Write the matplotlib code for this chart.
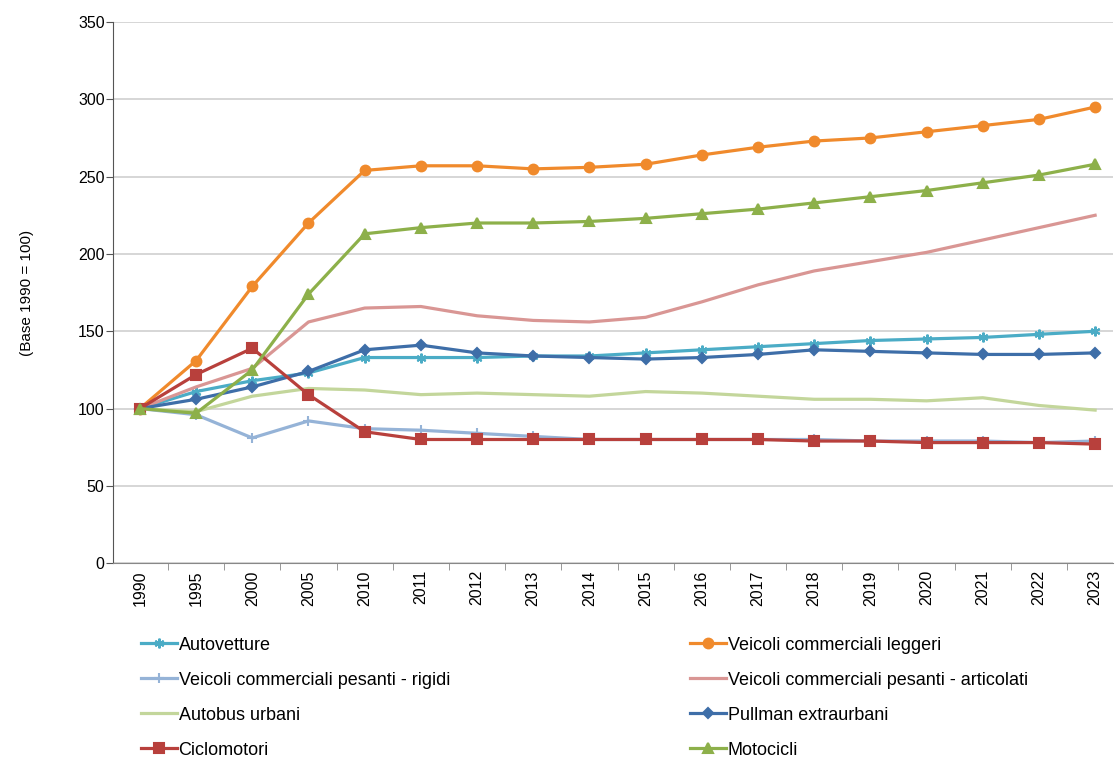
import numpy as np
import matplotlib.pyplot as plt
from matplotlib.ticker import MultipleLocator, FixedLocator

plt.rcParams["font.family"] = ["Liberation Sans", "DejaVu Sans"]

years = ["1990", "1995", "2000", "2005", "2010", "2011", "2012", "2013", "2014",
         "2015", "2016", "2017", "2018", "2019", "2020", "2021", "2022", "2023"]

autovetture = [100, 111, 118, 123, 133, 133, 133, 134, 134, 136, 138, 140, 142, 144, 145, 146, 148, 150]
comm_leggeri = [100, 131, 179, 220, 254, 257, 257, 255, 256, 258, 264, 269, 273, 275, 279, 283, 287, 295]
pesanti_rigidi = [100, 96, 81, 92, 87, 86, 84, 82, 80, 80, 80, 80, 80, 79, 79, 79, 78, 79]
pesanti_artic = [100, 114, 126, 156, 165, 166, 160, 157, 156, 159, 169, 180, 189, 195, 201, 209, 217, 225]
autobus_urbani = [100, 98, 108, 113, 112, 109, 110, 109, 108, 111, 110, 108, 106, 106, 105, 107, 102, 99]
pullman = [100, 106, 114, 124, 138, 141, 136, 134, 133, 132, 133, 135, 138, 137, 136, 135, 135, 136]
ciclomotori = [100, 122, 139, 109, 85, 80, 80, 80, 80, 80, 80, 80, 79, 79, 78, 78, 78, 77]
motocicli = [100, 97, 125, 174, 213, 217, 220, 220, 221, 223, 226, 229, 233, 237, 241, 246, 251, 258]

series = [
    ("Autovetture", autovetture, "#4BACC6", (6, 2, 0), 7),
    ("Veicoli commerciali leggeri", comm_leggeri, "#F08A2C", "o", 7),
    ("Veicoli commerciali pesanti - rigidi", pesanti_rigidi, "#95B3D7", "+", 7),
    ("Veicoli commerciali pesanti - articolati", pesanti_artic, "#D99694", None, 0),
    ("Autobus urbani", autobus_urbani, "#C3D69B", None, 0),
    ("Pullman extraurbani", pullman, "#3E6EA8", "D", 5),
    ("Ciclomotori", ciclomotori, "#B8403C", "s", 7),
    ("Motocicli", motocicli, "#8DB04A", "^", 7),
]

fig = plt.figure(figsize=(11.15, 7.58), dpi=100)
ax = fig.add_axes([0.1013, 0.257, 0.897, 0.714])

x = np.arange(len(years))
handles = []
for name, vals, color, marker, ms in series:
    h, = ax.plot(x, vals, color=color, lw=2.3, marker=marker, markersize=ms,
                 markeredgecolor=color, markeredgewidth=1.5, label=name, zorder=3)
    handles.append(h)

ax.set_ylim(0, 350)
ax.yaxis.set_major_locator(MultipleLocator(50))
ax.set_xlim(-0.48, 17.32)
ax.set_xticks(x)
ax.set_xticklabels(years, rotation=90, fontsize=11.5)
ax.xaxis.set_minor_locator(FixedLocator(np.arange(-0.5, 18, 1)))
ax.tick_params(axis="x", which="major", length=0, pad=5)
ax.tick_params(axis="x", which="minor", length=5, color="#888888")
ax.tick_params(axis="y", length=5, color="#555555", labelsize=11.5, pad=1)
ax.grid(axis="y", color="#D0D0D0", lw=1.2)
ax.set_axisbelow(True)
for s in ["top", "right"]:
    ax.spines[s].set_visible(False)
ax.spines["left"].set_color("#555555")
ax.spines["bottom"].set_color("#888888")
ax.set_ylabel("(Base 1990 = 100)", fontsize=11, labelpad=32)

# legend filled row by row, like the original
order = [0, 2, 4, 6, 1, 3, 5, 7]
fig.legend(handles=[handles[i] for i in order], loc="upper left",
           bbox_to_anchor=(0.118, 0.172), borderpad=0, ncol=2, frameon=False,
           fontsize=13, handlelength=2.0, handletextpad=0.1,
           columnspacing=13.3, labelspacing=1.0)

fig.savefig("out.png", dpi=100)
